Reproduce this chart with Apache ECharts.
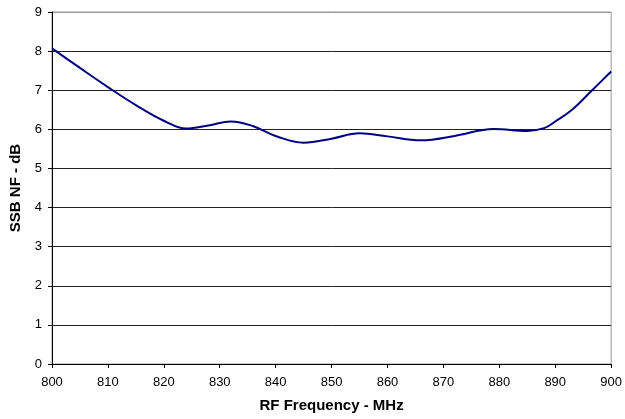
<!DOCTYPE html>
<html>
<head>
<meta charset="utf-8">
<script src="https://cdn.jsdelivr.net/npm/echarts@6/dist/echarts.min.js"></script>
<style>html,body{margin:0;padding:0;background:#fff}#c{width:625px;height:419px}</style>
</head>
<body>
<div id="c"></div>
<script>
const freqs = [800, 805, 810, 815, 820, 824, 828, 832, 836, 840, 845, 850, 855, 860, 866, 872, 879, 885, 888, 890, 893, 896.6, 900];
const nf    = [8.07, 7.57, 7.08, 6.62, 6.22, 6.02, 6.10, 6.20, 6.08, 5.83, 5.66, 5.76, 5.90, 5.82, 5.72, 5.83, 6.01, 5.96, 6.03, 6.2, 6.5, 7.0, 7.48];
const xTitle = 'RF Frequency - MHz';
const yTitle = 'SSB NF - dB';

const chart = echarts.init(document.getElementById('c'), null, {renderer: 'canvas'});
const font = 'Liberation Sans, Arial, sans-serif';
chart.setOption({
  animation: false,
  grid: {left: 49, right: 9, top: 12, bottom: 55, show: true, borderColor: '#999', borderWidth: 1},
  xAxis: {
    type: 'value', min: 800, max: 900, interval: 10,
    name: xTitle, nameLocation: 'middle', nameGap: 34,
    nameTextStyle: {fontFamily: font, fontSize: 15, fontWeight: 'bold', color: '#000'},
    axisLine: {lineStyle: {color: '#000', width: 1}},
    axisTick: {show: true, inside: false, length: 4, lineStyle: {color: '#000'}},
    axisLabel: {fontFamily: font, fontSize: 13, color: '#000', margin: 12},
    splitLine: {show: false}
  },
  yAxis: {
    type: 'value', min: 0, max: 9, interval: 1,
    name: yTitle, nameLocation: 'middle', nameGap: 29,
    nameTextStyle: {fontFamily: font, fontSize: 15, fontWeight: 'bold', color: '#000'},
    axisLine: {show: true, lineStyle: {color: '#000', width: 1}},
    axisTick: {show: true, inside: false, length: 4, lineStyle: {color: '#000'}},
    axisLabel: {fontFamily: font, fontSize: 13, color: '#000', margin: 10},
    splitLine: {show: true, lineStyle: {color: ['#222','#222','#222','#222','#222','#222','#222','#222','#222','#999'], width: 1}}
  },
  series: [{
    type: 'line',
    data: freqs.map((f, i) => [f, nf[i]]),
    smooth: 0.4,
    showSymbol: false,
    lineStyle: {color: '#000080', width: 2},
    itemStyle: {color: '#000080'}
  }]
});
</script>
</body>
</html>
